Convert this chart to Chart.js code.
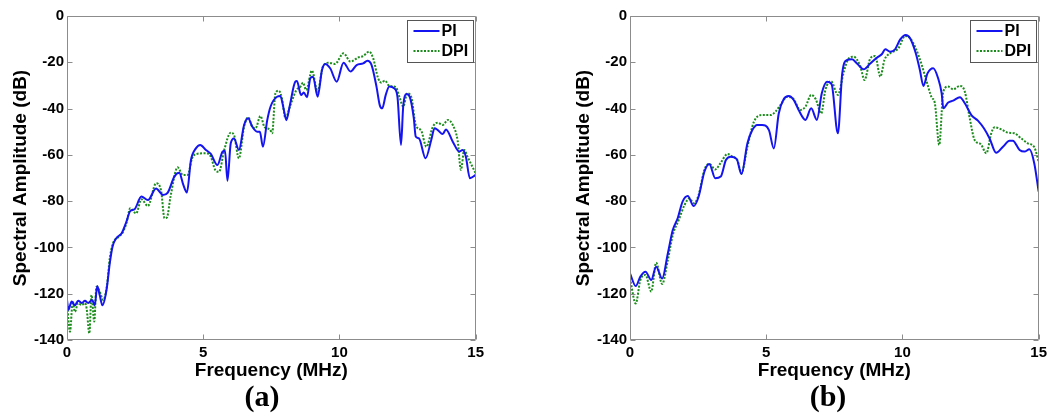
<!DOCTYPE html>
<html><head><meta charset="utf-8">
<script src="https://cdn.jsdelivr.net/npm/chart.js@4.4.1/dist/chart.umd.min.js"></script>
<style>
html,body{margin:0;padding:0;background:#fff;width:1051px;height:416px;overflow:hidden;}
canvas{position:absolute;top:0;}
.cap{position:absolute;top:381px;height:30px;line-height:30px;font-family:'Liberation Serif','Times New Roman',serif;font-weight:bold;font-size:30px;width:80px;text-align:center;color:#000;}
</style></head>
<body>
<canvas id="cA" width="488" height="416" style="left:0px"></canvas>
<canvas id="cB" width="488" height="416" style="left:563px"></canvas>
<div class="cap" style="left:222px">(a)</div>
<div class="cap" style="left:788px">(b)</div>
<script>
// ---- Data (a) ----
const aPiFreq = [0, 0.05, 0.17, 0.29, 0.41, 0.54, 0.66, 0.78, 0.92, 1.02,
  1.11, 1.2, 1.3, 1.45, 1.57, 1.67, 1.81, 2.0, 2.18, 2.32,
  2.48, 2.73, 2.97, 3.27, 3.52, 3.7, 3.94, 4.12, 4.27, 4.4,
  4.55, 4.73, 4.89, 5.1, 5.28, 5.52, 5.71, 5.8, 5.89, 6.01,
  6.13, 6.31, 6.5, 6.65, 6.8, 6.98, 7.08, 7.19, 7.35, 7.47,
  7.71, 7.83, 7.96, 8.05, 8.17, 8.38, 8.44, 8.59, 8.69, 8.81,
  8.93, 9.03, 9.2, 9.36, 9.48, 9.66, 9.9, 10.15, 10.41, 10.63,
  10.87, 11.03, 11.18, 11.36, 11.48, 11.57, 11.7, 11.83, 12.01, 12.13,
  12.26, 12.34, 12.46, 12.58, 12.73, 12.8, 12.92, 13.16, 13.37, 13.49,
  13.61, 13.79, 13.91, 14.16, 14.4, 14.52, 14.64, 14.79, 15];
const aPiDb = [-122.7, -127, -123.4, -125, -123, -124, -123, -124, -122.7, -125,
  -116.7, -120.6, -125, -118.4, -106.9, -99.7, -96, -94, -88.9, -84.3,
  -83.5, -78, -79.5, -74.5, -77.3, -76.3, -69.4, -67.7, -73, -76.3,
  -62.2, -57.2, -55.7, -57.9, -59.6, -64.4, -58.6, -58.2, -71.2, -55,
  -52.9, -57.9, -47.1, -44.2, -47.8, -50, -50, -56.5, -45, -39.2,
  -34.9, -34.6, -40.6, -45, -39.2, -28.4, -28.1, -34.1, -33.1, -35.1,
  -26.9, -26.2, -34.9, -23.3, -20.7, -22.6, -28.4, -20.2, -24, -21.2,
  -20.5, -19.3, -21.2, -30.5, -38.5, -39.9, -34.1, -30.5, -31.3, -34.9,
  -55.7, -39.2, -33.7, -34.9, -44.2, -52.1, -52.9, -61.5, -53.6, -48.5,
  -49.3, -51, -49, -54.3, -58.6, -57.9, -60.8, -70.1, -68.7];
const aDpiFreq = [0, 0.11, 0.21, 0.29, 0.41, 0.54, 0.66, 0.72, 0.82, 0.9,
  1.0, 1.08, 1.2, 1.33, 1.47, 1.57, 1.69, 1.91, 2.06, 2.18,
  2.32, 2.54, 2.73, 2.97, 3.27, 3.45, 3.58, 3.67, 3.8, 4.06,
  4.25, 4.43, 4.59, 4.76, 5.1, 5.28, 5.44, 5.58, 5.77, 6.01,
  6.13, 6.31, 6.5, 6.65, 6.8, 6.92, 7.1, 7.25, 7.45, 7.53,
  7.65, 7.77, 7.89, 8.02, 8.2, 8.42, 8.57, 8.66, 8.78, 8.99,
  9.2, 9.39, 9.6, 9.84, 10.15, 10.41, 10.69, 10.87, 11.09, 11.24,
  11.42, 11.54, 11.67, 11.83, 12.07, 12.22, 12.34, 12.49, 12.64, 12.8,
  13.0, 13.19, 13.43, 13.61, 13.79, 13.98, 14.16, 14.34, 14.46, 14.58,
  14.7, 15];
const aDpiDb = [-124, -136.4, -123.4, -127.8, -124, -124.9, -124, -126.3, -137.1, -120.6,
  -132, -117, -119, -122.7, -116.2, -104.7, -98.2, -95.3, -93.2, -89.6,
  -83.1, -85.3, -79.2, -82.1, -72.3, -75.2, -87.4, -87, -78, -65.4,
  -68.7, -68.7, -61.5, -59.6, -59.3, -60.8, -66.5, -67.3, -57.9, -50.4,
  -51.4, -61.5, -47.8, -43.8, -47.8, -48.5, -43.2, -48, -49, -50.7,
  -33.4, -32.3, -35.6, -44.2, -38.5, -32, -30.5, -28.8, -32, -23.6,
  -32.7, -21.9, -20.2, -20.7, -16.1, -19.7, -17.9, -17.3, -15.4, -18.3,
  -26.9, -28.8, -27.9, -30.2, -30.8, -35.6, -39.2, -33.4, -35.1, -47.1,
  -49.5, -56.5, -47.8, -46.1, -47.1, -44.9, -47.1, -53.9, -66.5, -57.9,
  -60.8, -68];

// ---- Data (b) ----
const bPiFreq = [0, 0.21, 0.38, 0.57, 0.78, 0.96, 1.18, 1.39, 1.57, 1.75,
  1.93, 2.12, 2.34, 2.52, 2.73, 2.91, 3.13, 3.33, 3.52, 3.7,
  3.92, 4.09, 4.31, 4.49, 4.67, 4.85, 5.1, 5.28, 5.46, 5.64,
  5.83, 6.01, 6.19, 6.44, 6.65, 6.86, 7.04, 7.23, 7.4, 7.63,
  7.79, 7.97, 8.15, 8.33, 8.58, 8.82, 9.06, 9.25, 9.37, 9.55,
  9.73, 9.92, 10.12, 10.28, 10.49, 10.64, 10.77, 10.92, 11.13, 11.31,
  11.44, 11.5, 11.68, 11.86, 12.11, 12.29, 12.53, 12.77, 12.99, 13.2,
  13.44, 13.69, 13.93, 14.05, 14.3, 14.48, 14.66, 14.84, 15];
const bPiDb = [-111.2, -116.7, -112.6, -110.5, -114.1, -108.3, -113.4, -102.5, -92.5, -87.4,
  -80.2, -77.8, -82.1, -78, -67.3, -63.9, -70.1, -69.4, -62.2, -60.8,
  -61.9, -68.3, -55, -49.3, -47.1, -47.1, -49.3, -57.2, -42.1, -36,
  -34.6, -36.3, -40.6, -44.9, -39.9, -44.9, -33.4, -28.4, -29.5, -50.7,
  -24.8, -19, -18.7, -20.5, -23, -20.5, -18, -16.4, -14.4, -15.4,
  -14.4, -10.1, -8.2, -9.6, -16.1, -23.3, -30.2, -24.8, -22.6, -26.9,
  -33.4, -39.9, -37.4, -36.6, -35.1, -37.7, -42.8, -45.2, -48.5, -52.9,
  -59.1, -56.5, -53.9, -53.9, -57.9, -58.6, -57.6, -63.7, -75.9];
const bDpiFreq = [0, 0.21, 0.38, 0.57, 0.78, 0.96, 1.18, 1.39, 1.57, 1.79,
  2.0, 2.18, 2.34, 2.52, 2.73, 2.91, 3.13, 3.33, 3.58, 3.76,
  3.94, 4.09, 4.31, 4.55, 4.85, 5.16, 5.34, 5.52, 5.77, 6.01,
  6.25, 6.44, 6.65, 6.82, 7.02, 7.17, 7.38, 7.63, 7.85, 8.03,
  8.21, 8.45, 8.61, 8.82, 9.0, 9.19, 9.34, 9.55, 9.85, 10.1,
  10.28, 10.49, 10.71, 10.89, 11.07, 11.19, 11.35, 11.5, 11.68, 11.86,
  12.11, 12.29, 12.47, 12.65, 12.87, 13.08, 13.26, 13.38, 13.63, 13.87,
  14.11, 14.36, 14.6, 14.84, 15];
const bDpiDb = [-113.4, -124.2, -114.1, -111.9, -119.1, -106.6, -115.8, -105.4, -94.6, -88.1,
  -81.7, -78.8, -80.9, -77.3, -66.5, -63.9, -66.3, -63.4, -59.6, -60.8,
  -62.2, -68, -56.5, -45.7, -42.8, -42.8, -41.3, -38.5, -34.9, -36,
  -40.6, -39.2, -34.1, -36, -42.1, -32, -28.2, -34.1, -24, -18.3,
  -17.6, -21.6, -27.7, -18.3, -17.3, -26.2, -19, -16.1, -14, -8.6,
  -9.6, -14, -21.2, -28.4, -35.1, -37.7, -55.7, -32.7, -30.5, -31.7,
  -30.2, -32.7, -44.2, -53.6, -55.3, -59.3, -50.7, -48.1, -49, -50.4,
  -50.7, -52.9, -55, -56.7, -62.9];

// ---- Axis / labels ----
const seriesNames = ['PI', 'DPI'];
const xTitle = 'Frequency (MHz)';
const yTitle = 'Spectral Amplitude (dB)';
const xMin = 0, xMax = 15, xStep = 5;
const yMin = -140, yMax = 0, yStep = 20;

const SANS = "'Liberation Sans', Arial, Helvetica, sans-serif";
const BLUE = '#1414f0';
const GREEN = '#1b8c1b';

function pts(xs, ys) { return xs.map((x, i) => ({x: x, y: ys[i]})); }

const framePlugin = {
  id: 'matlabFrame',
  afterDatasetsDraw(chart) {
    const {ctx, chartArea: a, scales} = chart;
    const L = Math.round(a.left) + 0.5, R = Math.round(a.right) - 0.5;
    const T = Math.round(a.top) + 0.5, B = Math.round(a.bottom) - 0.5;
    ctx.save();
    ctx.strokeStyle = '#8c8c8c';
    ctx.lineWidth = 1;
    ctx.beginPath();
    ctx.rect(L, T, R - L, B - T);
    const tl = 5;
    scales.x.ticks.forEach(t => {
      const p = Math.round(scales.x.getPixelForValue(t.value)) + 0.5;
      ctx.moveTo(p, B); ctx.lineTo(p, B - tl);
      ctx.moveTo(p, T); ctx.lineTo(p, T + tl);
    });
    scales.y.ticks.forEach(t => {
      const p = Math.round(scales.y.getPixelForValue(t.value)) + 0.5;
      ctx.moveTo(L, p); ctx.lineTo(L + tl, p);
      ctx.moveTo(R, p); ctx.lineTo(R - tl, p);
    });
    ctx.stroke();
    ctx.restore();
  },
  afterDraw(chart) {
    const {ctx, chartArea: a} = chart;
    const w = 66, h = 42;
    const left = Math.round(a.right - 3 - w) + 0.5, top = Math.round(a.top + 4) + 0.5;
    ctx.save();
    ctx.fillStyle = '#fff';
    ctx.fillRect(left, top, w, h);
    ctx.strokeStyle = '#555';
    ctx.lineWidth = 1;
    ctx.strokeRect(left, top, w, h);
    ctx.font = 'bold 16px ' + SANS;
    ctx.textBaseline = 'middle';
    ctx.fillStyle = '#000';
    chart.data.datasets.forEach((ds, i) => {
      const yy = top + 10.5 + i * 20;
      ctx.strokeStyle = ds.borderColor;
      ctx.lineWidth = ds.borderWidth;
      ctx.setLineDash(ds.borderDash || []);
      ctx.beginPath();
      ctx.moveTo(left + 6, yy);
      ctx.lineTo(left + 32, yy);
      ctx.stroke();
      ctx.setLineDash([]);
      ctx.fillText(ds.label, left + 34, yy + 1);
    });
    ctx.restore();
  }
};

function makeChart(id, piF, piDb, dpiF, dpiDb) {
  return new Chart(document.getElementById(id), {
    type: 'line',
    data: {
      datasets: [
        {label: seriesNames[0], data: pts(piF, piDb), borderColor: BLUE, borderWidth: 2,
         pointRadius: 0, fill: false, cubicInterpolationMode: 'monotone'},
        {label: seriesNames[1], data: pts(dpiF, dpiDb), borderColor: GREEN, borderWidth: 2,
         borderDash: [2, 1.5], pointRadius: 0, fill: false, cubicInterpolationMode: 'monotone'}
      ]
    },
    options: {
      responsive: false,
      animation: false,
      devicePixelRatio: 1,
      layout: {padding: {top: 16, right: 10, left: 0, bottom: 0}},
      plugins: {legend: {display: false}, tooltip: {enabled: false}},
      scales: {
        x: {
          type: 'linear', min: xMin, max: xMax,
          ticks: {stepSize: xStep, color: '#000', padding: 4, maxRotation: 0, autoSkip: false,
                  font: {family: SANS, size: 15, weight: 'bold'}},
          grid: {display: false, drawTicks: false},
          border: {display: false},
          title: {display: true, text: xTitle, color: '#000', padding: {top: 0, bottom: 34},
                  font: {family: SANS, size: 19, weight: 'bold'}},
          afterFit: s => { s.height = 76; }
        },
        y: {
          type: 'linear', min: yMin, max: yMax,
          ticks: {stepSize: yStep, color: '#000', padding: 3,
                  font: {family: SANS, size: 15, weight: 'bold'}},
          grid: {display: false, drawTicks: false},
          border: {display: false},
          title: {display: true, text: yTitle, color: '#000', padding: {top: 9, bottom: 0},
                  font: {family: SANS, size: 19, weight: 'bold'}},
          afterFit: s => { s.width = 67; }
        }
      }
    },
    plugins: [framePlugin]
  });
}

makeChart('cA', aPiFreq, aPiDb, aDpiFreq, aDpiDb);
makeChart('cB', bPiFreq, bPiDb, bDpiFreq, bDpiDb);
</script>
</body></html>
